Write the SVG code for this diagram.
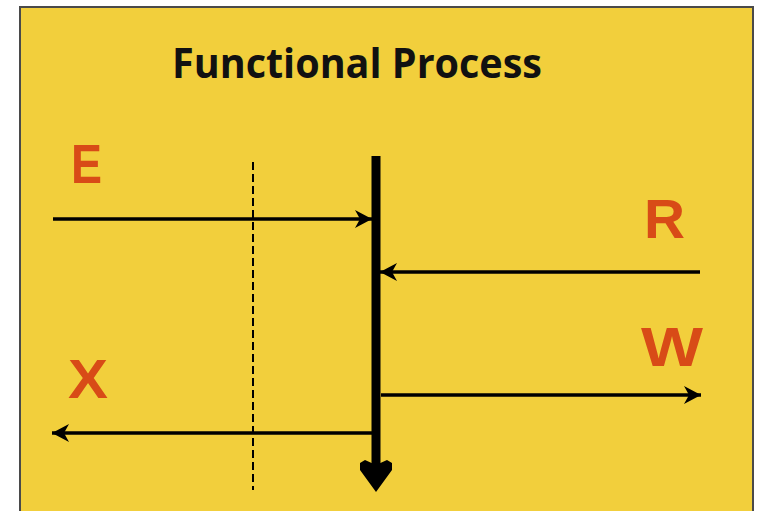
<svg xmlns="http://www.w3.org/2000/svg" width="759" height="511" viewBox="0 0 759 511">
  <style>
    .title { font-family: "Open Sans", "Liberation Sans", sans-serif; font-weight: 700; font-size: 42px; fill: #111; }
    .lbl { font-family: "Liberation Sans", Arial, sans-serif; font-weight: 700; font-size: 56px; fill: #D84B17; }
    .flow { stroke: #000; stroke-width: 3.5; fill: none; }
  </style>
  <defs>
    <!-- notched filled arrowhead for the data movements -->
    <marker id="tip" markerUnits="userSpaceOnUse" markerWidth="22" markerHeight="22" refX="19" refY="11" orient="auto">
      <path d="M2,2 L19,11 L2,20 L7,11 Z" fill="#000"/>
    </marker>
  </defs>

  <rect x="0" y="0" width="759" height="511" fill="#fff"/>
  <rect x="20" y="7" width="733" height="520" fill="#F2CF3C" stroke="#4a4a4a" stroke-width="2"/>

  <g id="title">
    <text class="title" x="172" y="78" textLength="370" lengthAdjust="spacingAndGlyphs">Functional Process</text>
  </g>

  <g id="boundary">
    <line x1="253" y1="162" x2="253" y2="490" stroke="#000" stroke-width="2" stroke-dasharray="8,4"/>
  </g>

  <g id="process-line">
    <line x1="376" y1="156" x2="376" y2="466" stroke="#000" stroke-width="9"/>
    <path d="M360,463 L365,460 L376,465 L387,460 L392,463 L392,470 L376,492 L360,470 Z" fill="#000"/>
  </g>

  <g id="connectors">
    <line class="flow" x1="53" y1="219" x2="372" y2="219" stroke-width="3" marker-end="url(#tip)"/>
    <line class="flow" x1="700" y1="272" x2="380" y2="272" marker-end="url(#tip)"/>
    <line class="flow" x1="381" y1="395" x2="701" y2="395" marker-end="url(#tip)"/>
    <line class="flow" x1="372" y1="433" x2="52" y2="433" marker-end="url(#tip)"/>
  </g>

  <g id="label-E"><text class="lbl" x="71" y="183" textLength="31" lengthAdjust="spacingAndGlyphs">E</text></g>
  <g id="label-R"><text class="lbl" x="644" y="238" textLength="41" lengthAdjust="spacingAndGlyphs">R</text></g>
  <g id="label-W"><text class="lbl" x="641" y="366" textLength="62" lengthAdjust="spacingAndGlyphs">W</text></g>
  <g id="label-X"><text class="lbl" x="68" y="398" textLength="40" lengthAdjust="spacingAndGlyphs">X</text></g>
</svg>
